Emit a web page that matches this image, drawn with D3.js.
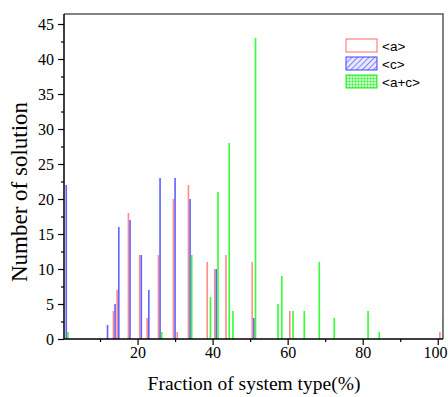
<!DOCTYPE html>
<html>
<head>
<meta charset="utf-8">
<script src="https://cdn.jsdelivr.net/npm/d3@7"></script>
<style>
    body { margin: 0; background: #fff; }
    svg { display: block; }
</style>
</head>
<body>
<script>
// fraction of system type (%) for each group of bars
const categories = [1, 12, 14, 15, 18, 21, 23, 26, 30, 31, 34, 39, 41, 44, 45, 51, 57, 58, 61, 64, 68, 72, 81, 84, 101];
// number of solutions per series
const valuesA  = [0, 0, 4, 7, 18, 12, 3, 12, 20, 1, 22, 11, 10, 12, 0, 11, 0, 0, 4, 0, 0, 0, 0, 0, 1];
const valuesC  = [22, 2, 5, 16, 17, 12, 7, 23, 23, 0, 20, 0, 10, 0, 0, 3, 0, 0, 0, 0, 0, 0, 0, 0, 0];
const valuesAC = [1, 0, 0, 0, 0, 0, 0, 1, 0, 0, 12, 6, 21, 28, 4, 43, 5, 9, 4, 4, 11, 3, 4, 1, 3];

const seriesNames = ["<a>", "<c>", "<a+c>"];
const yMajor = [0, 5, 10, 15, 20, 25, 30, 35, 40, 45];
const yMinor = [2.5, 7.5, 12.5, 17.5, 22.5, 27.5, 32.5, 37.5, 42.5];
const xMajor = [20, 40, 60, 80, 100];
const xMinor = [10, 30, 50, 70, 90];

const width = 448;
const height = 397;
const plot = {left: 64, right: 443, top: 14, bottom: 339};

const svg = d3.select("body")
    .append("svg")
    .attr("width", width)
    .attr("height", height);

const defs = svg.append("defs");
defs.append("clipPath").attr("id", "plotClip")
    .append("rect")
    .attr("x", plot.left)
    .attr("y", plot.top)
    .attr("width", plot.right - plot.left)
    .attr("height", plot.bottom - plot.top);

// hatch for <c>
const hatch = defs.append("pattern")
    .attr("id", "hatchC")
    .attr("patternUnits", "userSpaceOnUse")
    .attr("width", 4).attr("height", 4)
    .attr("patternTransform", "rotate(45)");
hatch.append("rect").attr("width", 4).attr("height", 4).attr("fill", "#e8e8ff");
hatch.append("line").attr("x1", 0).attr("y1", 0).attr("x2", 0).attr("y2", 4)
    .attr("stroke", "#4a4aff").attr("stroke-width", 1.3);

// grid for <a+c>
const grid = defs.append("pattern")
    .attr("id", "gridAC")
    .attr("patternUnits", "userSpaceOnUse")
    .attr("width", 3).attr("height", 3);
grid.append("rect").attr("width", 3).attr("height", 3).attr("fill", "#c8ffc8");
grid.append("path").attr("d", "M0,0H3M0,0V3")
    .attr("stroke", "#22ee22").attr("stroke-width", 1);

const xScale = d3.scaleLinear().domain([0.4, 101.4]).range([plot.left, plot.right]);
const yScale = d3.scaleLinear().domain([0, 46.43]).range([plot.bottom, plot.top]);
// offset of each series inside a group, in x units
const offset = d3.scaleBand().domain(seriesNames).range([-0.65, 0.65]).paddingInner(0);

const series = [
    {name: "<a>", values: valuesA, fill: "#ff8c8c", stroke: "#ff6a6a", legendFill: "#ffffff"},
    {name: "<c>", values: valuesC, fill: "#6262ff", stroke: "#4040ff", legendFill: "url(#hatchC)"},
    {name: "<a+c>", values: valuesAC, fill: "#33ff33", stroke: "#22ee22", legendFill: "url(#gridAC)"}
];

const bars = svg.append("g").attr("clip-path", "url(#plotClip)");
series.forEach(function (s) {
    const data = categories.map(function (c, i) {
        return {x: c, v: s.values[i]};
    }).filter(function (d) {
        return d.v > 0;
    });
    bars.selectAll(null)
        .data(data)
        .enter().append("rect")
        .attr("x", function (d) {
            return xScale(d.x + offset(s.name));
        })
        .attr("width", function (d) {
            return xScale(d.x + offset(s.name) + offset.bandwidth()) - xScale(d.x + offset(s.name));
        })
        .attr("y", function (d) {
            return yScale(d.v);
        })
        .attr("height", function (d) {
            return yScale(0) - yScale(d.v);
        })
        .attr("fill", s.fill);
});

// axes
const serif = "'Liberation Serif', 'Times New Roman', serif";

svg.append("g")
    .attr("transform", "translate(" + plot.left + ",0)")
    .call(d3.axisLeft(yScale).tickValues(yMajor).tickSize(6).tickPadding(4));
svg.append("g")
    .attr("transform", "translate(" + plot.left + ",0)")
    .call(d3.axisLeft(yScale).tickValues(yMinor).tickSize(3).tickFormat(""));

const xAxis = svg.append("g")
    .attr("transform", "translate(0," + plot.bottom + ")")
    .call(d3.axisBottom(xScale).tickValues(xMajor).tickSize(6).tickPadding(2));
svg.append("g")
    .attr("transform", "translate(0," + plot.bottom + ")")
    .call(d3.axisBottom(xScale).tickValues(xMinor).tickSize(3).tickFormat(""));

svg.selectAll(".domain").remove();
svg.selectAll(".tick line").attr("stroke", "#000").attr("stroke-width", 1.2);
svg.selectAll(".tick text")
    .attr("font-family", serif)
    .attr("font-size", 16)
    .attr("fill", "#000");

// the last label sits at the window edge; keep it inside
xAxis.selectAll(".tick text")
    .filter(function (d) { return d === 100; })
    .attr("text-anchor", "end")
    .attr("x", width - 1 - xScale(100));

// frame
svg.append("path")
    .attr("d", "M" + plot.left + "," + plot.top + "H" + plot.right + "V" + plot.bottom)
    .attr("fill", "none")
    .attr("stroke", "#5a5a5a")
    .attr("stroke-width", 1.5);
svg.append("path")
    .attr("d", "M" + plot.left + "," + plot.top + "V" + plot.bottom + "H" + plot.right)
    .attr("fill", "none")
    .attr("stroke", "#000")
    .attr("stroke-width", 1.5);

// titles
svg.append("text")
    .attr("transform", "translate(27,192) rotate(-90)")
    .attr("text-anchor", "middle")
    .attr("font-family", serif)
    .attr("font-size", 23)
    .text("Number of solution");

svg.append("text")
    .attr("x", 254)
    .attr("y", 390)
    .attr("text-anchor", "middle")
    .attr("font-family", serif)
    .attr("font-size", 19.5)
    .text("Fraction of system type(%)");

// legend
const legend = svg.append("g").attr("transform", "translate(346,39)");
const items = legend.selectAll("g")
    .data(series)
    .enter().append("g")
    .attr("transform", function (d, i) {
        return "translate(0," + (i * 18) + ")";
    });
items.append("rect")
    .attr("width", 31)
    .attr("height", 13)
    .attr("fill", function (d) { return d.legendFill; })
    .attr("stroke", function (d) { return d.stroke; })
    .attr("stroke-width", 1);
items.append("text")
    .attr("x", 36)
    .attr("y", 11.5)
    .attr("font-family", "'Liberation Sans', Arial, sans-serif")
    .attr("font-size", 13.5)
    .text(function (d) { return d.name; });
</script>
</body>
</html>
